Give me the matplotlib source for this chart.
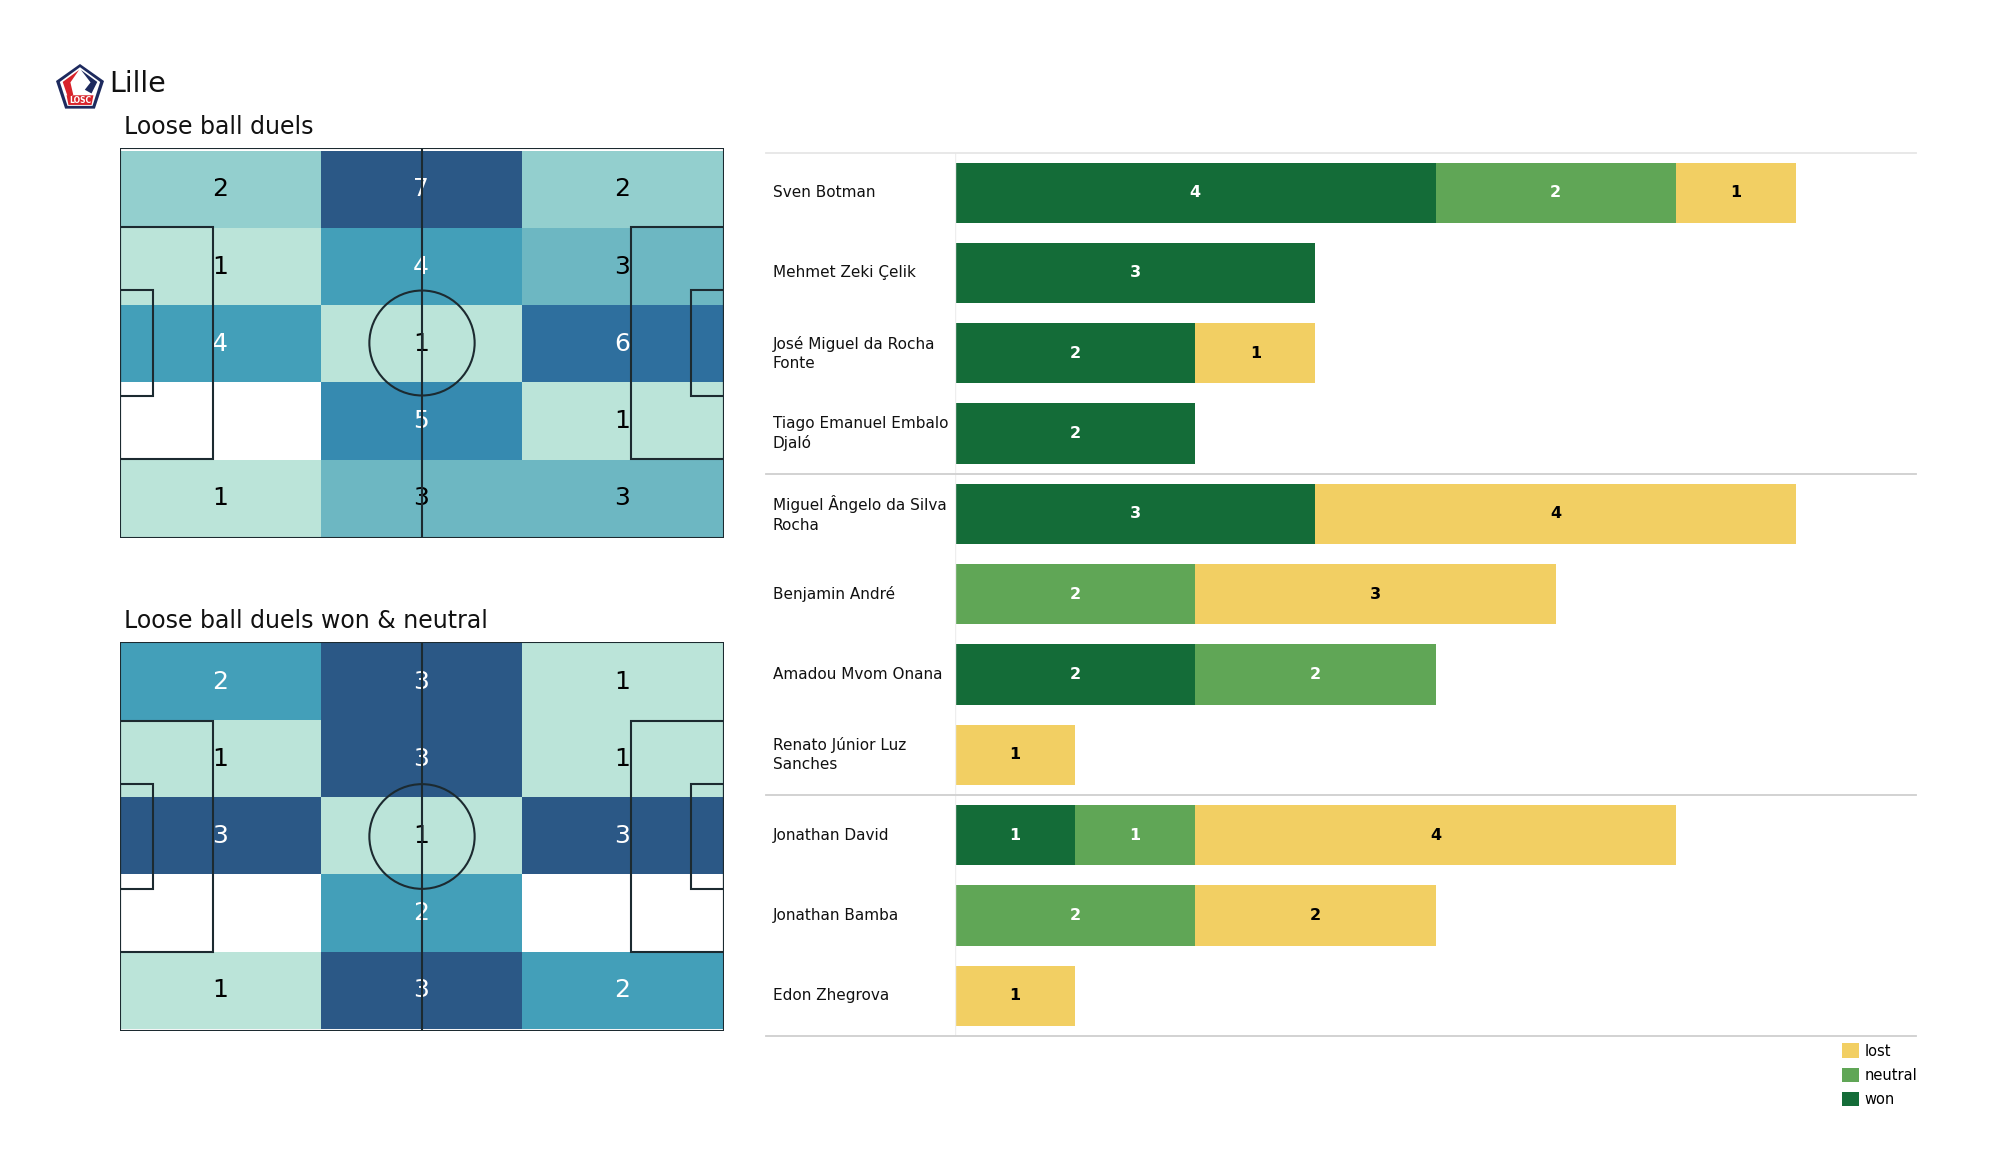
import numpy as np
import matplotlib
matplotlib.use('Agg')
import matplotlib.pyplot as plt
from matplotlib.colors import LinearSegmentedColormap
from matplotlib.patches import Rectangle, Circle, Polygon

W, H = 2000, 1175

team = 'Lille'
title_all = 'Loose ball duels'
title_won = 'Loose ball duels won & neutral'

# grid counts, top row first
duels_all = np.array([[2, 7, 2],
                      [1, 4, 3],
                      [4, 1, 6],
                      [0, 5, 1],
                      [1, 3, 3]])
duels_won = np.array([[2, 3, 1],
                      [1, 3, 1],
                      [3, 1, 3],
                      [0, 2, 0],
                      [1, 3, 2]])

players = ['Sven Botman', 'Mehmet Zeki Çelik', 'José Miguel da Rocha\nFonte',
           'Tiago Emanuel Embalo\nDjaló', 'Miguel Ângelo da Silva\nRocha',
           'Benjamin André', 'Amadou Mvom Onana', 'Renato Júnior Luz\nSanches',
           'Jonathan David', 'Jonathan Bamba', 'Edon Zhegrova']
won = [4, 3, 2, 2, 3, 0, 2, 0, 1, 0, 0]
neutral = [2, 0, 0, 0, 0, 2, 2, 0, 1, 2, 0]
lost = [1, 0, 1, 0, 4, 3, 0, 1, 4, 2, 1]

col_won = '#146c38'
col_neutral = '#60a656'
col_lost = '#f2cf63'
line_col = '#1c2a30'

cmap = LinearSegmentedColormap.from_list('duels', ['#bbe4d9', '#93cfce', '#6db7c2', '#439fb9',
                                                   '#368ab0', '#2e6f9e', '#2b5886'])


def px_axes(x0, y0, x1, y1):
    # axes from pixel box, y counted from the top
    return fig.add_axes([x0 / W, 1 - y1 / H, (x1 - x0) / W, (y1 - y0) / H])


def draw_pitch(ax, counts, title, grid_top, grid_bottom):
    ax.set_xlim(0, 105)
    ax.set_ylim(0, 68)
    xe = np.linspace(0, 104.8, 4)
    ye = np.linspace(grid_top, grid_bottom, 6)  # heat grid sits a little inside the frame
    shown = np.ma.masked_equal(counts, 0)
    m = counts.max()
    ax.pcolormesh(xe, ye, (shown - 1) / (m - 1), cmap=cmap, vmin=0, vmax=1)
    for r in range(5):
        for c in range(3):
            v = counts[r, c]
            if v == 0:
                continue
            ax.text((xe[c] + xe[c + 1]) / 2 - 0.1, (ye[r] + ye[r + 1]) / 2, str(v), fontsize=18,
                    ha='center', va='center', color='white' if v / m > 0.5 else 'black')
    lw = 1.5
    kw = dict(fill=False, ec=line_col, lw=lw, zorder=3)
    ax.add_patch(Rectangle((0, 0), 105, 68, **kw))
    ax.add_patch(Rectangle((0, 13.84), 16.1, 40.32, **kw))
    ax.add_patch(Rectangle((88.9, 13.84), 16.1, 40.32, **kw))
    ax.add_patch(Rectangle((0, 24.84), 5.7, 18.32, **kw))
    ax.add_patch(Rectangle((99.3, 24.84), 5.7, 18.32, **kw))
    ax.add_patch(Circle((52.5, 34), 9.15, **kw))
    ax.plot([52.5, 52.5], [0, 68], color=line_col, lw=lw, zorder=3)
    ax.axis('off')
    ax.text(0.7, 69.5, title, fontsize=17, ha='left', va='bottom', color='#111111')


fig = plt.figure(figsize=(W / 100, H / 100), dpi=100)

# pitches
draw_pitch(px_axes(120, 148, 724, 538), duels_all, title_all, 67.5, 0.2)
draw_pitch(px_axes(120, 642, 724, 1031), duels_won, title_won, 67.8, 0.4)

# team name
fig.text(109 / W, 1 - 84 / H, team, fontsize=20.5, ha='left', va='center', color='#111111')

# badge
logo = px_axes(56, 64, 104, 110)
logo.set_xlim(0, 1)
logo.set_ylim(0, 1)
logo.axis('off')
logo.add_patch(Polygon([[.5, 1], [1, .63], [.81, .03], [.19, .03], [0, .63]], fc='#1d2a5e', ec='none'))
logo.add_patch(Polygon([[.5, .93], [.92, .61], [.76, .09], [.24, .09], [.08, .61]], fc='white', ec='none'))
logo.add_patch(Polygon([[.48, .87], [.14, .61], [.25, .27], [.36, .33], [.3, .6]], fc='#d8232a', ec='none'))
logo.add_patch(Polygon([[.52, .87], [.86, .61], [.74, .36], [.6, .44], [.72, .6]], fc='#1d2a5e', ec='none'))
logo.add_patch(Polygon([[.22, .32], [.78, .32], [.74, .11], [.26, .11]], fc='#d8232a', ec='none'))
logo.text(.5, .215, 'LOSC', fontsize=5.5, fontweight='bold', color='white', ha='center', va='center')

# stacked bars
ax = px_axes(955, 152.5, 1916, 1036)
y = np.arange(len(players)) + 0.5
ax.barh(y, won, height=0.75, color=col_won, label='won')
ax.barh(y, neutral, left=won, height=0.75, color=col_neutral, label='neutral')
left_lost = np.array(won) + np.array(neutral)
ax.barh(y, lost, left=left_lost, height=0.75, color=col_lost, label='lost')
ax.set_xlim(0, 8)
ax.set_ylim(len(players), 0)
ax.set_xticks([])
ax.set_yticks([])
for s in ax.spines.values():
    s.set_visible(False)
ax.axvline(0, color='#eeeeee', lw=1)

for i in range(len(players)):
    ax.text(-1.518, y[i], players[i], fontsize=11, ha='left', va='center', color='#111111',
            linespacing=1.35)
    if won[i]:
        ax.text(won[i] / 2, y[i], str(won[i]), fontsize=11.5, fontweight='bold', color='white',
                ha='center', va='center')
    if neutral[i]:
        ax.text(won[i] + neutral[i] / 2, y[i], str(neutral[i]), fontsize=11.5, fontweight='bold',
                color='white', ha='center', va='center')
    if lost[i]:
        ax.text(left_lost[i] + lost[i] / 2, y[i], str(lost[i]), fontsize=11.5, fontweight='bold',
                color='black', ha='center', va='center')

# separators between position groups
for g, c in zip([0, 4, 8, 11], ['#e6e6e6', '#cfcfcf', '#cfcfcf', '#cfcfcf']):
    ax.plot([-1.57, 8], [g, g], color=c, lw=1.3, clip_on=False)

# legend
hd, lb = ax.get_legend_handles_labels()
fig.legend(hd[::-1], lb[::-1], loc='lower right', bbox_to_anchor=(1917 / W, 1 - 1107 / H), frameon=False,
           fontsize=10.5, handlelength=1.15, handleheight=1.15, handletextpad=0.35, labelspacing=0.62,
           borderpad=0, borderaxespad=0)

fig.savefig('out.png', dpi=100, facecolor='white')
